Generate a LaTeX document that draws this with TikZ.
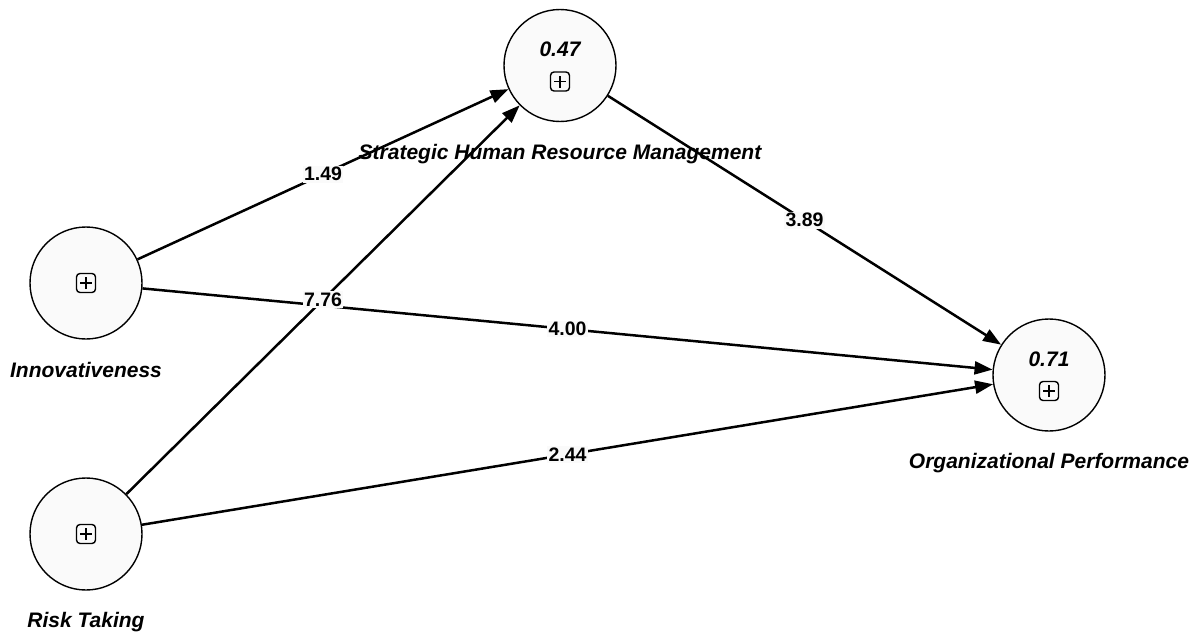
\documentclass[tikz,border=0pt]{standalone}
\usepackage{fontspec}
\setmainfont{Liberation Sans}
\usetikzlibrary{arrows.meta,positioning}
\tikzset{
  latent/.style={circle, draw, line width=1.4pt, fill=white!98!black, minimum size=112pt, inner sep=0pt},
  plusbox/.style={draw, rounded corners=3.5pt, minimum size=19pt, inner sep=0pt, line width=1.4pt,
    path picture={\draw[line width=1.3pt]
      ([xshift=-6pt]path picture bounding box.center) -- ([xshift=6pt]path picture bounding box.center)
      ([yshift=-6pt]path picture bounding box.center) -- ([yshift=6pt]path picture bounding box.center);}},
  namelbl/.style={font=\fontsize{21}{24}\selectfont\bfseries\itshape, inner sep=0pt},
  rsq/.style={font=\fontsize{21}{24}\selectfont\bfseries\itshape, inner sep=0pt},
  pathlbl/.style={font=\fontsize{19.5}{23}\selectfont\bfseries, fill=white!98!black, inner sep=1.5pt},
  path/.style={line width=2.5pt, -{Triangle[length=18pt,width=13pt]}}
}
\begin{document}
\begin{tikzpicture}[x=1pt,y=-1pt]
\useasboundingbox (0,0) rectangle (1195,637);
% constructs
\node[latent] (innov) at (86,283) {};
\node[latent] (risk) at (86,534) {};
\node[latent] (shrm) at (560,65.5) {};
\node[latent] (perf) at (1049,375) {};
% expand icons and R squared
\node[plusbox] (innovx) at (innov) {};
\node[plusbox] (riskx) at (risk) {};
\node[plusbox, yshift=-16pt] (shrmx) at (shrm) {};
\node[plusbox, yshift=-16pt] (perfx) at (perf) {};
\node[rsq, yshift=16pt] (shrmr) at (shrm) {0.47};
\node[rsq, yshift=16pt] (perfr) at (perf) {0.71};
% names
\node[namelbl] (innovn) at ([yshift=-87pt]innov.center) {Innovativeness};
\node[namelbl] (riskn) at ([yshift=-88pt]risk.center) {Risk Taking};
\node[namelbl] (shrmn) at ([yshift=-89pt]shrm.center) {Strategic Human Resource Management};
\node[namelbl] (perfn) at ([yshift=-88pt]perf.center) {Organizational Performance};
% paths
\draw[path] (innov) -- node[pathlbl] {1.49} (shrm);
\draw[path] (innov) -- node[pathlbl] {4.00} (perf);
\draw[path] (risk) -- node[pathlbl] {2.44} (perf);
\draw[path] (shrm) -- node[pathlbl] {3.89} (perf);
\draw[path] (risk) -- node[pathlbl] {7.76} (shrm);
\end{tikzpicture}
\end{document}
